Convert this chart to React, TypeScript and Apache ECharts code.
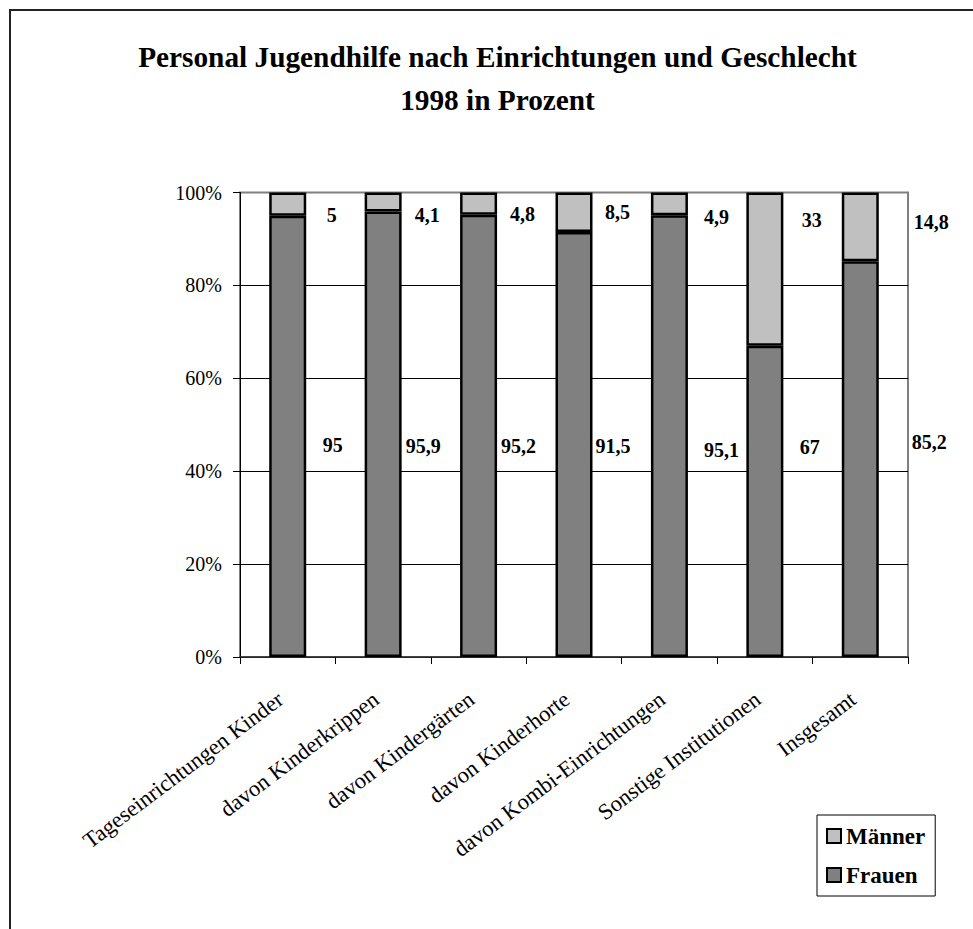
import React, { useEffect, useRef } from "react";
import * as echarts from "echarts";

const categories = [
  "Tageseinrichtungen Kinder",
  "davon Kinderkrippen",
  "davon Kindergärten",
  "davon Kinderhorte",
  "davon Kombi-Einrichtungen",
  "Sonstige Institutionen",
  "Insgesamt",
];
const frauen = [95, 95.9, 95.2, 91.5, 95.1, 67, 85.2];
const maenner = [5, 4.1, 4.8, 8.5, 4.9, 33, 14.8];
const frauenLabels = ["95", "95,9", "95,2", "91,5", "95,1", "67", "85,2"];
const maennerLabels = ["5", "4,1", "4,8", "8,5", "4,9", "33", "14,8"];
const yTicks = [0, 20, 40, 60, 80, 100];

// label nudges (px) relative to the segment centre, as placed in the original
const frauenNudge = [[45, 9], [40, 12], [40, 10], [39, 1.5], [52, 13.5], [45, -54], [69, -17]];
const maennerNudge = [[44, 11], [44, 13], [44, 10], [43.5, 0], [47, 13], [47, -49], [71, -5]];

const FONT = "'Liberation Serif', 'Times New Roman', serif";

export default function App() {
  const ref = useRef<HTMLDivElement>(null);
  useEffect(() => {
    if (!ref.current) return;
    const chart = echarts.init(ref.current, null, { renderer: "svg" });
    const labelStyle = {
      show: true,
      position: "inside",
      color: "#000",
      fontFamily: FONT,
      fontWeight: "bold",
      fontSize: 20,
      backgroundColor: "#fff",
      padding: [1, 1],
    };
    const mk = (vals: number[], texts: string[], nudge: number[][]) =>
      vals.map((v, i) => ({
        value: v,
        label: { ...labelStyle, offset: nudge[i], formatter: texts[i] },
      }));
    chart.setOption({
      animation: false,
      textStyle: { fontFamily: FONT },
      graphic: [
        {
          type: "polyline",
          shape: { points: [[10, 929], [10, 10], [973, 10]] },
          style: { stroke: "#222", lineWidth: 2, fill: null },
          z: 10,
        },
        {
          type: "text",
          x: 497.5,
          y: 57,
          style: {
            text: "Personal Jugendhilfe nach Einrichtungen und Geschlecht",
            font: `bold 29.3px ${FONT}`,
            fill: "#000",
            textAlign: "center",
            textVerticalAlign: "middle",
          },
        },
        {
          type: "text",
          x: 497.5,
          y: 100,
          style: {
            text: "1998 in Prozent",
            font: `bold 29.3px ${FONT}`,
            fill: "#000",
            textAlign: "center",
            textVerticalAlign: "middle",
          },
        },
      ],
      grid: {
        left: 240,
        top: 192.5,
        right: 65,
        bottom: 272,
        show: true,
        backgroundColor: "#fff",
        borderColor: "#808080",
        borderWidth: 2,
      },
      legend: {
        data: ["Männer", "Frauen"],
        orient: "vertical",
        left: 817,
        top: 815,
        icon: "rect",
        itemWidth: 14,
        itemHeight: 14,
        itemGap: 15,
        padding: [9, 10, 9, 9],
        borderColor: "#000",
        borderWidth: 1,
        backgroundColor: "#fff",
        textStyle: {
          fontFamily: FONT,
          fontWeight: "bold",
          fontSize: 23,
          color: "#000",
          lineHeight: 24,
        },
      },
      xAxis: {
        type: "category",
        data: categories,
        axisLine: { lineStyle: { color: "#333", width: 1.5 } },
        axisTick: { show: true, length: 7, lineStyle: { color: "#000" } },
        axisLabel: {
          rotate: 37,
          interval: 0,
          margin: 34,
          padding: [0, 9, 0, 0],
          fontSize: 22.5,
          color: "#000",
          fontFamily: FONT,
        },
      },
      yAxis: {
        type: "value",
        min: 0,
        max: 100,
        interval: 20,
        axisLine: { show: true, lineStyle: { color: "#000", width: 1 } },
        axisTick: { show: true, length: 7, lineStyle: { color: "#000" } },
        axisLabel: {
          formatter: (v: number) => (yTicks.includes(v) ? `${v}%` : ""),
          fontSize: 20,
          color: "#000",
          margin: 18,
          fontFamily: FONT,
        },
        splitLine: {
          show: true,
          lineStyle: {
            color: ["#000", "#000", "#000", "#000", "#000", "#808080"],
            width: 1,
          },
        },
      },
      series: [
        {
          name: "Frauen",
          type: "bar",
          stack: "total",
          barWidth: 37,
          itemStyle: { color: "#808080", borderColor: "#000", borderWidth: 2.5 },
          data: mk(frauen, frauenLabels, frauenNudge),
          z: 3,
        },
        {
          name: "Männer",
          type: "bar",
          stack: "total",
          barWidth: 37,
          itemStyle: { color: "#c0c0c0", borderColor: "#000", borderWidth: 2.5 },
          data: mk(maenner, maennerLabels, maennerNudge),
          z: 3,
        },
      ],
    });
    return () => chart.dispose();
  }, []);
  return (
    <div
      ref={ref}
      style={{ position: "fixed", left: 0, top: 0, width: 973, height: 929, background: "#fff" }}
    />
  );
}
